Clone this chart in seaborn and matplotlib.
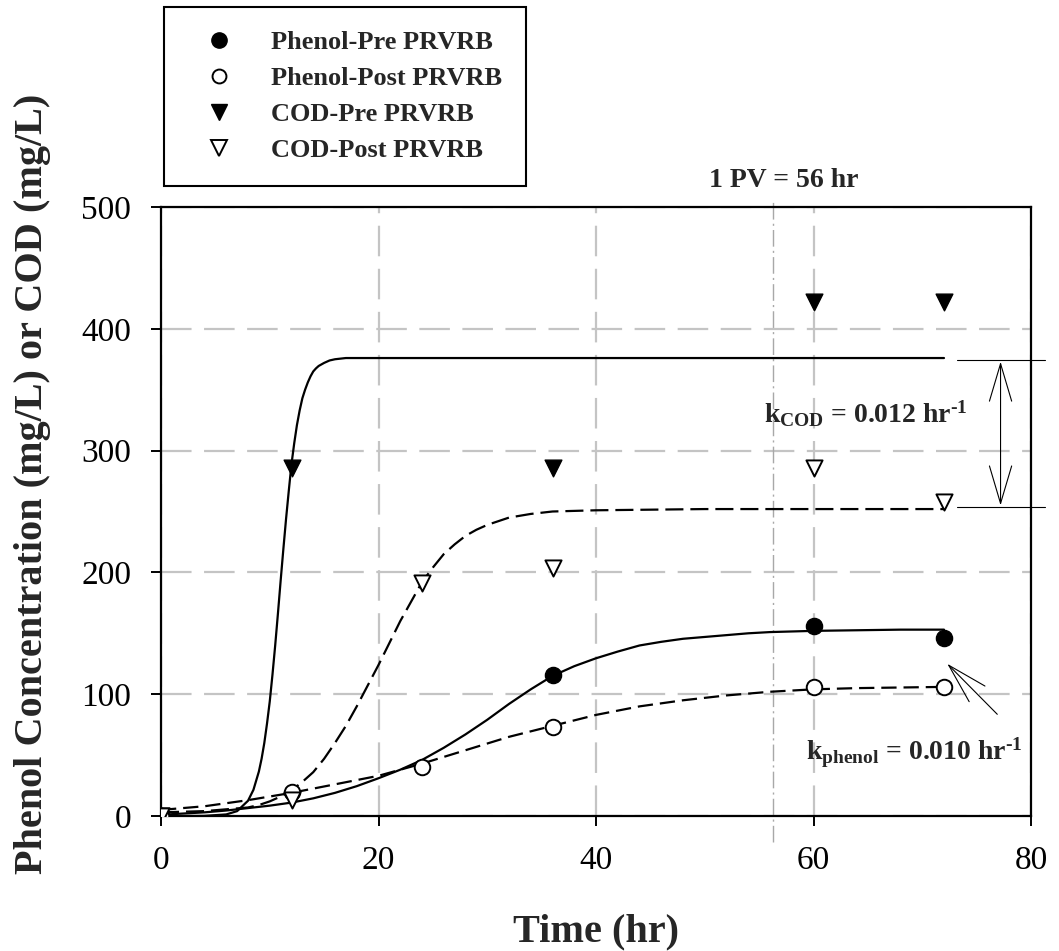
import matplotlib
matplotlib.use("Agg")
import matplotlib.pyplot as plt
import seaborn as sns
from matplotlib.lines import Line2D

# ---------------- data ----------------
phenol_pre_t = [0, 36, 60, 72]
phenol_pre = [0, 116, 156, 146]

phenol_post_t = [0, 12, 24, 36, 60, 72]
phenol_post = [0, 20, 40, 73, 106, 106]

cod_pre_t = [0, 12, 36, 60, 72]
cod_pre = [0, 286, 286, 422, 422]

cod_post_t = [0, 12, 24, 36, 60, 72]
cod_post = [0, 13, 191, 204, 286, 258]

# fitted curves
cod_pre_fit_t = [0, 2, 4, 6, 7, 8, 8.5, 9, 9.25, 9.5, 9.75, 10, 10.25, 10.5, 10.75, 11,
                 11.25, 11.5, 11.75, 12, 12.25, 12.5, 12.75, 13, 13.25, 13.5, 13.75, 14,
                 14.25, 14.5, 15, 15.5, 16, 17, 20, 30, 40, 50, 60, 72]
cod_pre_fit = [0, 0, 0.1, 1.3, 4, 12.5, 21.5, 36.5, 47, 60, 76, 94, 116, 140, 166, 193,
               219, 244, 267, 289, 306, 321, 333, 343, 350, 356, 361, 365,
               367.5, 369.5, 372, 374, 375, 376, 376, 376, 376, 376, 376, 376]

cod_post_fit_t = [0, 2, 4, 6, 8, 9, 10, 11, 12, 13, 14, 15, 16, 17, 18, 19, 20, 21, 22, 23,
                  24, 25, 26, 27, 28, 29, 30, 31, 32, 34, 36, 40, 50, 60, 72]
cod_post_fit = [3, 3.5, 4, 5.5, 7, 9, 12, 16, 21, 28, 36, 47, 60, 74, 90, 107, 124, 142, 160, 176,
                192, 204, 215, 223, 230, 235, 239, 242, 245, 248, 250, 251, 252, 252, 252]

phenol_pre_fit_t = [0, 2, 4, 6, 8, 10, 12, 14, 16, 18, 20, 22, 24, 26, 28, 30, 32, 34, 36,
                    38, 40, 42, 44, 46, 48, 50, 52, 54, 56, 58, 60, 64, 68, 72]
phenol_pre_fit = [1, 2, 3, 4.5, 6.5, 8.5, 11, 14.5, 19, 24.5, 31, 38, 46, 56, 67, 79, 92, 104, 115,
                  123, 129.5, 135, 140, 143, 145.5, 147, 148.5, 150, 151, 151.5, 152, 152.5, 153, 153]

phenol_post_fit_t = [0, 2, 4, 6, 8, 10, 12, 14, 16, 18, 20, 22, 24, 26, 28, 30, 32, 34, 36,
                     38, 40, 42, 44, 46, 48, 50, 52, 54, 56, 58, 60, 64, 68, 72]
phenol_post_fit = [5, 6.5, 8, 10.5, 13, 16, 19, 22.5, 26, 29.5, 33, 38, 43, 48.5, 54, 59.5, 65, 69.5, 74,
                   78.5, 83, 86.5, 90, 92.5, 95, 97, 99, 100.5, 102, 103, 104, 105, 105.5, 106]

x_ticks = [0, 20, 40, 60, 80]
y_ticks = [0, 100, 200, 300, 400, 500]
legend_labels = ["Phenol-Pre PRVRB", "Phenol-Post PRVRB", "COD-Pre PRVRB", "COD-Post PRVRB"]
pv_time = 56.3

# ---------------- style ----------------
sns.set_style("ticks")
plt.rcParams["font.family"] = ["Liberation Serif", "DejaVu Serif"]
plt.rcParams["mathtext.fontset"] = "custom"
plt.rcParams["mathtext.rm"] = "Liberation Serif:bold"
plt.rcParams["mathtext.it"] = "Liberation Serif:bold"
plt.rcParams["mathtext.bf"] = "Liberation Serif:bold"
plt.rcParams["lines.scale_dashes"] = False

W, H = 1059, 951
fig = plt.figure(figsize=(W / 100, H / 100), dpi=100)
L, R, T, B = 161, 1031, 207, 816
ax = fig.add_axes([L / W, 1 - B / H, (R - L) / W, (B - T) / H])

# grid
ax.set_axisbelow(True)
ax.grid(True, color="#c4c4c4", linewidth=1.6, linestyle=(0, (22, 9)))

# 1 PV line
ax.axvline(pv_time, ymin=-0.042, ymax=1.012, clip_on=False, color="#a8a8a8",
           linewidth=1.0, linestyle=(0, (12, 3, 1.5, 3)), zorder=1)

# curves
solid_kw = dict(color="black", linewidth=1.6, sort=False, estimator=None, ax=ax, legend=False)
sns.lineplot(x=cod_pre_fit_t, y=cod_pre_fit, **solid_kw)
sns.lineplot(x=phenol_pre_fit_t, y=phenol_pre_fit, **solid_kw)
sns.lineplot(x=cod_post_fit_t, y=cod_post_fit, **solid_kw)
ax.lines[-1].set_dashes((13, 5))
sns.lineplot(x=phenol_post_fit_t, y=phenol_post_fit, **solid_kw)
ax.lines[-1].set_dashes((11, 5))

# markers
sns.scatterplot(x=phenol_pre_t, y=phenol_pre, marker="o", s=135, color="black",
                edgecolor="black", linewidth=1.0, ax=ax, zorder=5, legend=False)
sns.scatterplot(x=phenol_post_t, y=phenol_post, marker="o", s=125, color="white",
                edgecolor="black", linewidth=1.4, ax=ax, zorder=6, legend=False)
sns.scatterplot(x=cod_pre_t, y=cod_pre, marker="v", s=145, color="black",
                edgecolor="black", linewidth=1.0, ax=ax, zorder=5, legend=False)
sns.scatterplot(x=cod_post_t, y=cod_post, marker="v", s=135, color="white",
                edgecolor="black", linewidth=1.4, ax=ax, zorder=6, legend=False)

# axes
ax.set_xlim(0, 80)
ax.set_ylim(0, 500)
ax.set_xticks(x_ticks)
ax.set_yticks(y_ticks)
for s in ax.spines.values():
    s.set_linewidth(1.6)
    s.set_color("black")
ax.tick_params(direction="out", length=7.5, width=1.4, labelsize=24, pad=14,
               top=False, right=False, colors="black")
ax.set_xlabel("Time (hr)", fontsize=29, fontweight="bold", labelpad=27)
ax.set_ylabel("Phenol Concentration (mg/L) or COD (mg/L)", fontsize=29, fontweight="bold")
ax.yaxis.set_label_coords(-0.127, 0.545)

# annotations
ax.text(57.3, 522, "1 PV = 56 hr", fontsize=20, fontweight="bold", ha="center", va="center")
ax.text(64.8, 330, r"k$_{\mathrm{COD}}$ = 0.012 hr$^{\text{-1}}$", fontsize=20,
        fontweight="bold", ha="center", va="center")
ax.text(69.3, 52, r"k$_{\mathrm{phenol}}$ = 0.010 hr$^{\text{-1}}$", fontsize=20,
        fontweight="bold", ha="center", va="center")

# COD difference marker lines
ax.plot([73.2, 81.3], [374, 374], color="black", linewidth=0.8, clip_on=False)
ax.plot([73.2, 81.3], [254, 254], color="black", linewidth=0.8, clip_on=False)
ax.annotate("", xy=(77.2, 373), xytext=(77.2, 255),
            arrowprops=dict(arrowstyle="<->,head_length=27,head_width=8", color="black",
                            linewidth=0.8, shrinkA=0, shrinkB=0, mutation_scale=1))
ax.annotate("", xy=(72.3, 125), xytext=(76.9, 83.5),
            arrowprops=dict(arrowstyle="->,head_length=29,head_width=8", color="black",
                            linewidth=0.8, shrinkA=0, shrinkB=0, mutation_scale=1))

# legend
handles = [
    Line2D([], [], linestyle="none", marker="o", markersize=11, color="black"),
    Line2D([], [], linestyle="none", marker="o", markersize=10, markerfacecolor="white",
           markeredgecolor="black", markeredgewidth=1.4),
    Line2D([], [], linestyle="none", marker="v", markersize=11.5, color="black"),
    Line2D([], [], linestyle="none", marker="v", markersize=11, markerfacecolor="white",
           markeredgecolor="black", markeredgewidth=1.4),
]
leg = fig.legend(handles, legend_labels, loc="upper left",
                 bbox_to_anchor=(164 / W, 1 - 7 / H), bbox_transform=fig.transFigure,
                 frameon=True, fancybox=False, edgecolor="black", framealpha=1,
                 prop=dict(family="Liberation Serif", weight="bold", size=19),
                 borderpad=0.9, handlelength=2.4, handletextpad=0.76, labelspacing=0.47,
                 borderaxespad=0)
leg.get_frame().set_linewidth(1.5)

fig.savefig("out.png", dpi=100)
